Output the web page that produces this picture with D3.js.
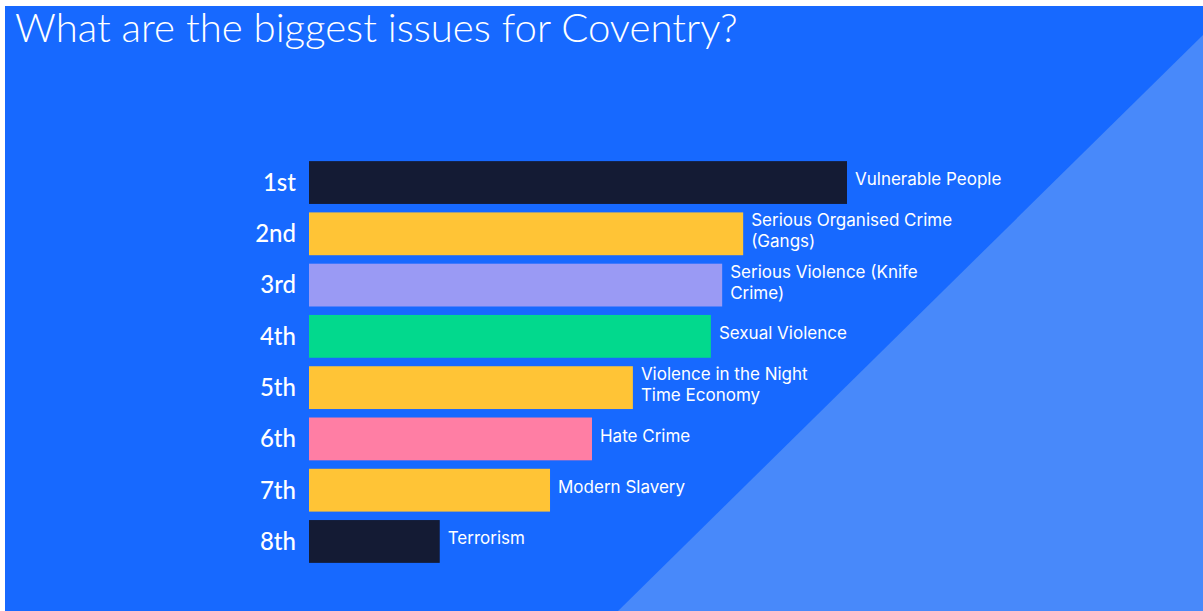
<!DOCTYPE html>
<html>
<head>
<meta charset="utf-8">
<title>What are the biggest issues for Coventry?</title>
<script src="https://cdn.jsdelivr.net/npm/d3@7"></script>
<style>
body{ margin:0; background:#fff; }
text{ font-family: Lato, "Open Sans", sans-serif; fill:#fff; }
text.issue{ font-family: Inter, Lato, sans-serif; }
</style>
</head>
<body>
<script>
// data
var ranks = ["1st", "2nd", "3rd", "4th", "5th", "6th", "7th", "8th"];
var issues = [
  "Vulnerable People",
  "Serious Organised Crime\n(Gangs)",
  "Serious Violence (Knife\nCrime)",
  "Sexual Violence",
  "Violence in the Night\nTime Economy",
  "Hate Crime",
  "Modern Slavery",
  "Terrorism"
];
var scores = [100, 80.7, 76.8, 74.7, 60.2, 52.6, 44.8, 24.3];
var colours = ["#141b34", "#ffc436", "#9a9af4", "#02d98d", "#ffc436", "#ff7ea4", "#ffc436", "#141b34"];

var width = 1203,
    height = 611;

var svg = d3.select("body").append("svg")
    .attr("width", width)
    .attr("height", height);

// background: blue panel with a lighter wedge on the right
svg.append("rect")
    .attr("x", 5).attr("y", 6)
    .attr("width", width - 5).attr("height", height - 6)
    .attr("fill", "#1769ff");

svg.append("path")
    .attr("d", d3.line()([[618, height], [width, 35], [width, height]]))
    .attr("fill", "#4889fa");

// title
var title = svg.append("text")
    .attr("x", 15)
    .attr("y", 42)
    .attr("font-size", 39)
    .attr("font-weight", 300)
    .text("What are the biggest issues for Coventry?");
// fit to the width it has in the picture
var tw = title.node().getComputedTextLength();
title.attr("font-size", 39 * 723 / tw);

var x = d3.scaleLinear()
    .domain([0, 100])
    .range([309, 847]);

var y = d3.scaleBand()
    .domain(ranks)
    .range([156, 568])
    .paddingInner(0.165)
    .paddingOuter(0.1);

var rows = svg.selectAll("g.row")
    .data(ranks.map(function(r, i){
        return { rank: r, issue: issues[i], score: scores[i], colour: colours[i] };
    }))
    .enter().append("g")
    .attr("class", "row");

rows.append("rect")
    .attr("x", x(0))
    .attr("y", function(d){ return y(d.rank); })
    .attr("width", function(d){ return x(d.score) - x(0); })
    .attr("height", y.bandwidth())
    .attr("fill", function(d){ return d.colour; });

rows.append("text")
    .attr("x", x(0) - 13)
    .attr("y", function(d){ return y(d.rank) + y.bandwidth() / 2; })
    .attr("dy", "0.35em")
    .attr("text-anchor", "end")
    .attr("font-size", 24)
    .attr("font-weight", 500)
    .text(function(d){ return d.rank; });

var lineH = 21;
rows.each(function(d){
    var lines = d.issue.split("\n");
    var cy = y(d.rank) + y.bandwidth() / 2 - 3;
    var t = d3.select(this).append("text")
        .attr("class", "issue")
        .attr("x", x(d.score) + 8)
        .attr("font-size", 17)
        .attr("font-weight", 400);
    lines.forEach(function(s, k){
        t.append("tspan")
            .attr("x", x(d.score) + 8)
            .attr("y", cy + (k - (lines.length - 1) / 2) * lineH)
            .attr("dy", "0.35em")
            .text(s);
    });
});
</script>
</body>
</html>
